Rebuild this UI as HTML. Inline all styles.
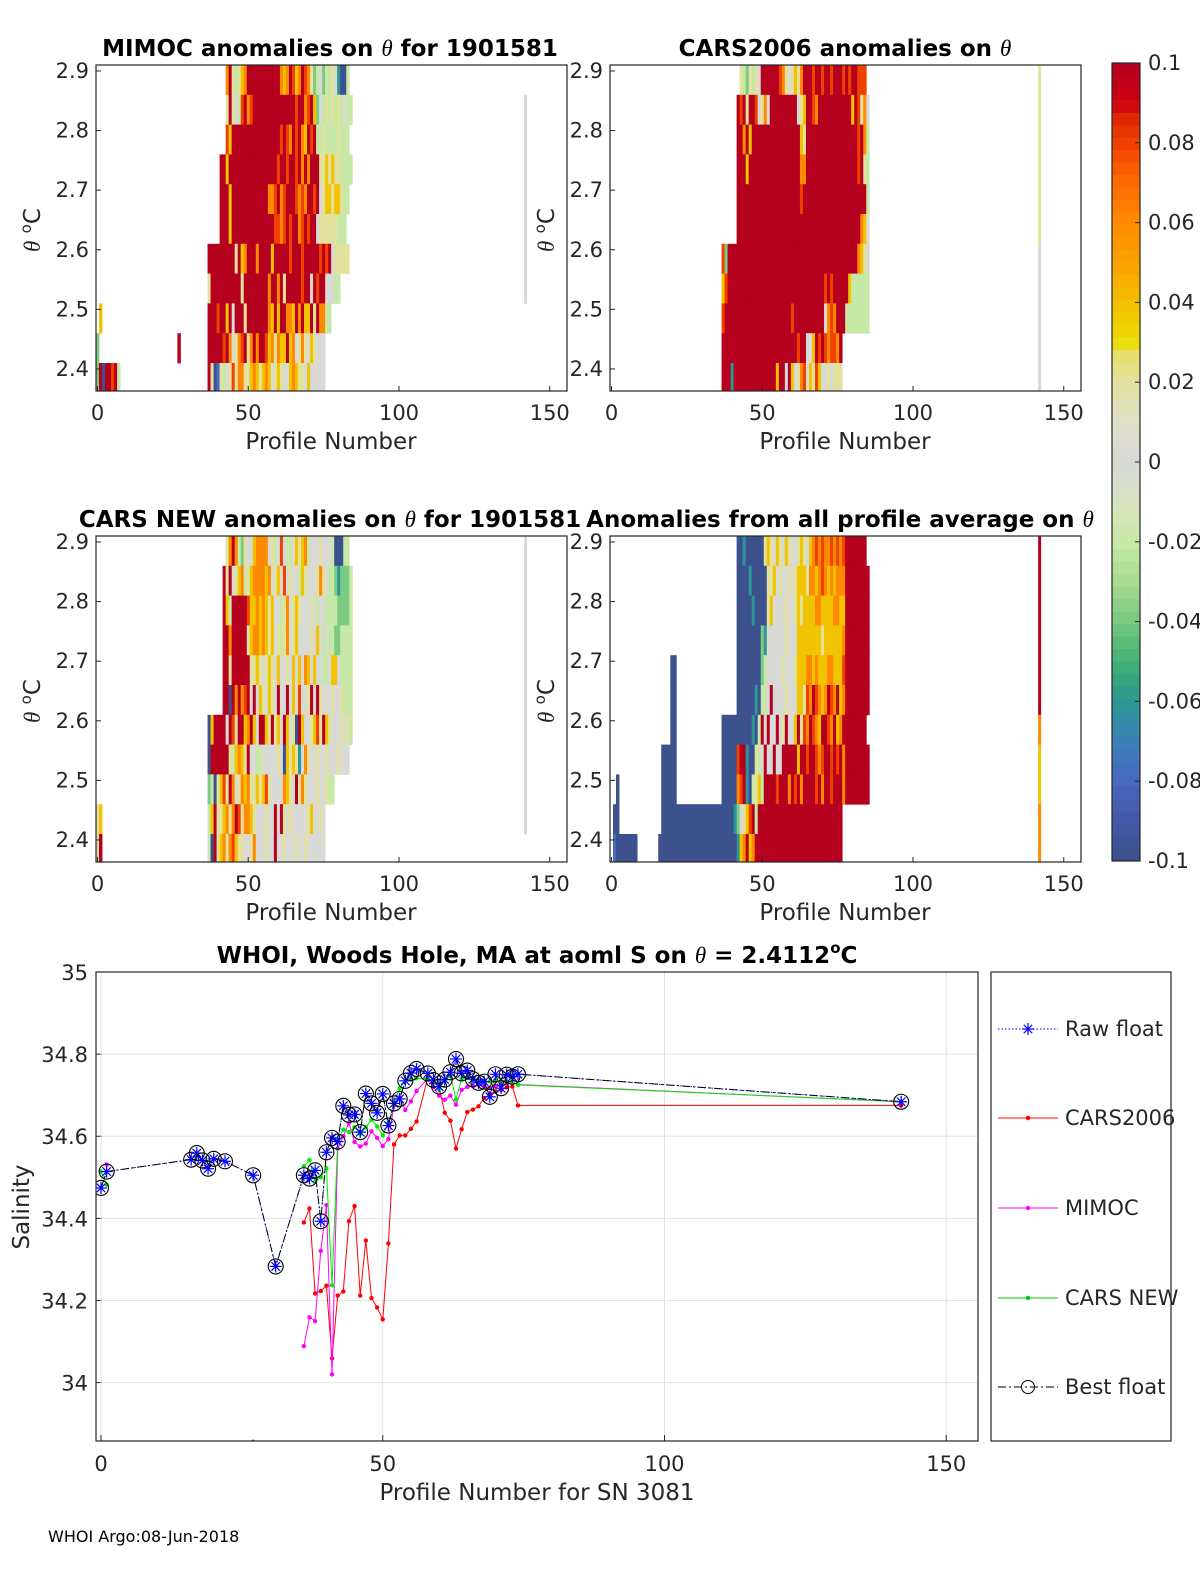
<!DOCTYPE html>
<html><head><meta charset="utf-8"><title>Argo anomalies</title>
<style>
html,body{margin:0;padding:0;background:#fff;}
svg{display:block;font-family:"DejaVu Sans","Liberation Sans",sans-serif;}
.tt{font-weight:bold;font-size:23px;fill:#000;}
.tk{font-size:21px;fill:#262626;}
.lb{font-size:23px;fill:#262626;}
</style></head>
<body>
<svg id="fig" width="1200" height="1575" viewBox="0 0 1200 1575" xmlns="http://www.w3.org/2000/svg">
<defs>
<clipPath id="cb"><rect x="96" y="972" width="882" height="469"/></clipPath>
</defs>
</svg>
<script>
// ---------- heatmap data (codes A..K => -0.1 .. 0.1 step 0.02) ----------
const thetaRows = [2.885,2.835,2.785,2.735,2.685,2.635,2.585,2.535,2.485,2.435,2.385];
const xTicksHeat = [0,50,100,150];
const yTicksHeat = [2.4,2.5,2.6,2.7,2.8,2.9];
const p1Rows = [
 [[43,"IKGEGHIKKKKKKKKKKKIHIKJHIKJIGDEFDEEGFCAAE"]],
 [[43,"GKGFEJKIJKKKKKKKKKKKKKKJKKIJKHDFEGEGEGEFEE"]],
 [[43,"JHKKKKKKKKKKKKKKKKJKJIKJKIHKJKEEGEEEEGEEE"]],
 [[41,"KKHKKKKKKKKKKKKKKKKJKKJKKJKIKIKKKGGHGHGGEEEE"]],
 [[41,"KKKHKKKKKKKKKKKKIIJKIJKKKJIJIKKJKFGHHGHHGEE"]],
 [[41,"KKKHKKKKKKKKKKKKKKJJIJKJKKIJKJKKFGGGGGGEEE"]],
 [[37,"KKKKKKKKKGKHIKKKIKKKKHKKKKKJKKKJKKKKKJKJKFGGGGG"]],
 [[37,"GKKKKKKKKKKGKKKKKKKKIKKIKGKKKKKJKKFKJKKFFFEE"]],
 [[1,"H"],[37,"KKKJKKHKFKKKGKKKKKKKIHKHKKIIHKIKHHKGKIIEE"]],
 [[0,"D"],[27,"K"],[37,"KKKKKJKIFGIJKGIKIKKJHIGIHHKHIFGIGFHGFFF"]],
 [[0,"DKAKKJKE"],[37,"KGABGEFGJGIIGGHIHGHIHFGHGFFHIHGGFHFFFFF"]]
];
const p1Col142 = ".FFFFFFF...";
const p2Rows = [
 [[43,"GEDGEGFKKKKKKJIGFGHGIKKKJKKJKKJKKKJKJKKJJJ"]],
 [[42,"KJKGKKJFGIFKKKKKKKKKFGHKKJIKKKKKKKKKKKHKJGIF"]],
 [[42,"KKIKHKKKKKKKKKKKKKKKKHGKKKKKKKKKKKKKKKKKJKIE"]],
 [[42,"KKKHKKKKKKKKKKKKKKKKKIIKKKKKKKKKKKKKKKKKJKGE"]],
 [[42,"KKKKKKKKKKKKKKKKKKKKKJKKKKKKKKKKKKKKKKKKKKKE"]],
 [[42,"KKKKKKKKKKKKKKKKKKKKKKKKKKKKKKKKKKKKKKKKKIHF"]],
 [[37,"JDKKKKKKKKKKKKKKKKKKKKKKKKKKKKKKKKKKKKKKKKKKKIHGF"]],
 [[37,"HJKKKKKKKKKKKKKKKKKKKKKKKKKKKKKKKKJKJKKKKKHEEEEEE"]],
 [[37,"JKKKKKKKKKKKKKKKKKKKKKKJKKKKKKKKKKFIJIKKKEEEEEEEE"]],
 [[37,"KKKKKKKKKKKKKKKKKKKKKKKKKJKKFFHKJKJIJJIK"]],
 [[37,"KKKCKKKKKKKKKKKKKKHKKFKHFGIJFHGJHFFGFGGG"]]
];
const p2Col142 = "GGGGGGFFFFF";
const p3Rows = [
 [[43,"GIKIEDGFFHIIIIFGEFJFEEFHGHIEFFFGFFFEAAAEE"]],
 [[42,"KGKFGHIEGHIIIIHIFGHFJFGFFEHGFFFGIGFEEDCDDDE"]],
 [[42,"KHEKKKKKJHHIHIHGHFFEGIFGHGFFFGFEFFEEEEDDDDE"]],
 [[42,"KKIKKKKKGHIIHIHGHFGEGIFGHFFFFGFHFEFEEDDEEEE"]],
 [[42,"KKGKKKKKKGGHGFGHGFHFFGFHFHFIHFHFFEEFHHFEEEE"]],
 [[42,"KKAKIKIJKFKFHGFHGFKFFKFHFJFFGKFKGFFFGFFGEEE"]],
 [[37,"AHKKKKFKJGKKHIKHFKKHGKGHFKHFGAKHFFGHJGKHGFFFGFGE"]],
 [[37,"AKKKKKKGEHIHGKFFEEFFFFFGFAHGHGCFIGFFGFFGFFFGFFF"]],
 [[37,"DEAGHJGKIFGIHIGGHGHJGFFFFIHGFKGIGFFFGFFGEE"]],
 [[0,"GH"],[37,"EHKGGHIGIKJGIIHGFFFGFFKFKGFGFFFFFGHFFGF"]],
 [[0,"GK"],[37,"EAKGHIGIJHGGFFGIFFFGFFKFFGFFFGFFGFFFFFF"]]
];
const p3Col142 = "FFFFFFFFFF.";
const p4Rows = [
 [[42,"AACAAAAAAGHGFHGFHGFFGHGFHIJIJIIJIJIJKKKKKKK"]],
 [[42,"AAAACAAAAAGGHFGFFGFGHHHGIIHIJIHIHIIIKKKKKKKK"]],
 [[42,"AAAAACAAAAGHFFFFGFFGHGHHHHIIHHHHIIHHKKKKKKKK"]],
 [[42,"AAAAAAAADCFFFFFFGFFFHHHHHHHHGHHHHHHIKKKKKKKK"]],
 [[20,"AA"],[42,"AAAAAAAADEFFFFFGFFFGHHHIIHIHHHIIHHHJKKKKKKKK"]],
 [[20,"AA"],[42,"AAAAAACAEEFKFFFFGFFFHHGJIKJIHIKJIKHIKKKKKKKK"]],
 [[20,"AA"],[37,"AAAAAAAAAACAEKFKFFKFGKFFHKGJIKJIHKKJIKHIKKKKKKKK"]],
 [[17,"AAAAA"],[37,"AAAAAJKKCAAGEFKFFKFFKKKKKHKKJKKJIJKKJKJKIKKKKKKKK"]],
 [[2,"A"],[17,"AAAAA"],[37,"AAAAAIJKCAEGHEKKKKJKKKIKJKIKKKKJKIKKJKKKIKKKKKKKK"]],
 [[1,"AA"],[17,"AAAAAAAAAAAAAAAAAAAAAAAACDFGHJKEKKKKKKKKKKKKKKKKKKKKKKKKKKKK"]],
 [[1,"BAAAAAAA"],[16,"AAAAAAAAAAAAAAAAAAAAAAAAAACHIKHIKKKKKKKKKKKKKKKKKKKKKKKKKKKKK"]]
];
const p4Col142 = "KKKKKKIHHII";
const cbarTicks = [0.1,0.08,0.06,0.04,0.02,0,-0.02,-0.04,-0.06,-0.08,-0.1];

// ---------- salinity chart data (null = gap) ----------
const bestX = [0,1,16,17,18,19,20,22,27,31,36,37,38,39,40,41,42,43,44,45,46,47,48,49,50,51,52,53,54,55,56,58,59,60,61,62,63,64,65,66,67,68,69,70,71,72,73,74,142];
const bestS = [34.474,34.514,34.543,34.559,34.541,34.521,34.545,34.539,34.505,34.283,34.505,34.497,34.517,34.393,34.561,34.596,34.587,34.674,34.652,34.653,34.610,34.704,34.680,34.657,34.703,34.626,34.680,34.691,34.735,34.754,34.764,34.753,34.737,34.721,34.738,34.756,34.788,34.753,34.760,34.739,34.730,34.733,34.696,34.751,34.717,34.750,34.745,34.751,34.684];
const carsX = [36,37,38,39,40,41,42,43,44,45,46,47,48,49,50,51,52,53,54,55,56,58,59,60,61,62,63,64,65,66,67,68,69,70,71,72,73,74,142];
const carsS = [34.390,34.424,34.217,34.223,34.236,34.059,34.212,34.222,34.393,34.430,34.212,34.346,34.206,34.183,34.154,34.339,34.580,34.602,34.602,34.618,34.636,34.743,34.731,34.721,34.657,34.638,34.570,34.617,34.659,34.665,34.673,34.693,34.702,34.709,34.713,34.719,34.721,34.675,34.675];
const mimocX = [1,null,27,null,36,37,38,39,40,41,42,43,44,45,46,47,48,49,50,51,52,53,54,55,56,58,59,60,61,62,63,64,65,66,67,68,69,70,71,72,73,74,142];
const mimocS = [34.531,null,33.856,null,34.089,34.159,34.150,34.321,34.432,34.020,34.570,34.600,34.632,34.586,34.575,34.582,34.612,34.596,34.576,34.593,34.675,34.695,34.664,34.685,34.710,34.741,34.720,34.699,34.689,34.699,34.677,34.713,34.720,34.722,34.725,34.722,34.718,34.722,34.725,34.728,34.730,34.726,34.684];
const newX = [0,1,null,36,37,38,39,40,41,42,43,44,45,46,47,48,49,50,51,52,53,54,55,56,58,59,60,61,62,63,64,65,66,67,68,69,70,71,72,73,74,142];
const newS = [34.514,34.482,null,34.527,34.542,34.489,34.500,34.522,34.237,34.590,34.616,34.610,34.622,34.606,34.622,34.640,34.624,34.602,34.634,34.679,34.717,34.735,34.738,34.741,34.740,34.735,34.715,34.735,34.748,34.690,34.740,34.742,34.738,34.736,34.735,34.733,34.735,34.734,34.733,34.732,34.725,34.684];
const salXTicks = [0,50,100,150];
const salYTicks = [34,34.2,34.4,34.6,34.8,35];
const legendLabels = ["Raw float","CARS2006","MIMOC","CARS NEW","Best float"];

// ---------- helpers ----------
const NS="http://www.w3.org/2000/svg";
const svg=document.getElementById('fig');
function mk(tag,attrs,parent){const e=document.createElementNS(NS,tag);for(const k in attrs)e.setAttribute(k,attrs[k]);(parent||svg).appendChild(e);return e;}
const stops=[[-0.1,[58,80,136]],[-0.09,[68,88,168]],[-0.08,[72,104,192]],[-0.07,[58,128,184]],[-0.06,[42,152,144]],[-0.05,[64,176,112]],[-0.04,[120,200,128]],[-0.03,[168,220,144]],[-0.02,[200,232,168]],[-0.01,[216,228,192]],[0,[216,216,216]],[0.01,[224,224,200]],[0.02,[226,226,160]],[0.028,[232,224,96]],[0.03,[236,220,0]],[0.04,[242,192,0]],[0.05,[251,160,0]],[0.06,[255,140,0]],[0.07,[255,106,0]],[0.08,[240,64,0]],[0.085,[224,48,0]],[0.09,[208,0,16]],[0.1,[176,0,32]]];
function cmap(v){
  v=Math.max(-0.1,Math.min(0.1,v));
  const q=Math.min(63,Math.floor((v+0.1)/0.2*64)); v=-0.1+(q+0.5)*0.2/64;
  for(let i=0;i<stops.length-1;i++){const a=stops[i],b=stops[i+1];if(v>=a[0]&&v<=b[0]){const t=(v-a[0])/(b[0]-a[0]);const c=a[1].map((x,j)=>Math.round(x+(b[1][j]-x)*t));return `rgb(${c[0]},${c[1]},${c[2]})`;}}
  return 'rgb(176,0,32)';
}
function codeVal(ch){return -0.1+(ch.charCodeAt(0)-65)*0.02;}
function txt(s,attrs,parent){const e=mk('text',attrs,parent);e.textContent=s;return e;}

// ---------- heatmap panels ----------
function panel(name,left,top,rows,col142,title,titleX){
  const g=mk('g',{});
  
  
  const W=471,H=326,x0=left+1.5,kx=3.015,ky=596;
  const X=p=>x0+p*kx, Y=th=>top+(2.91-th)*ky;
  const cid='c'+name; const cp=mk('clipPath',{id:cid},svg.querySelector('defs')); mk('rect',{x:left,y:top,width:W,height:H},cp);
  const cells=mk('g',{'clip-path':`url(#${cid})`},g);
  rows.forEach((segs,i)=>{
    const th=thetaRows[i];
    segs.forEach(([st,codes])=>{
      for(let j=0;j<codes.length;j++){
        const ch=codes[j]; if(ch==='.')continue;
        const p=st+j;
        const r=mk('rect',{x:X(p-0.5),y:Y(th+0.025),width:kx+0.4,height:ky*0.05+0.4,fill:cmap(codeVal(ch))},cells);
        
        
      }
    });
    const c=col142[i];
    if(c!=='.'){
      const r=mk('rect',{x:X(142)-1.5,y:Y(th+0.025),width:3,height:ky*0.05+0.4,fill:cmap(codeVal(c))},cells);
      
      
    }
  });
  mk('rect',{x:left,y:top,width:W,height:H,fill:'none',stroke:'#262626','stroke-width':1.2},g);
  yTicksHeat.forEach(t=>{const y=Y(t);mk('line',{x1:left,x2:left+5,y1:y,y2:y,stroke:'#262626'},g);
    const e=txt(t.toFixed(1),{x:left-7,y:y+7,'text-anchor':'end',class:'tk'},g);
    });
  xTicksHeat.forEach(t=>{const x=X(t);mk('line',{x1:x,x2:x,y1:top+H,y2:top+H-5,stroke:'#262626'},g);
    const e=txt(String(t),{x:x,y:top+H+29,'text-anchor':'middle',class:'tk'},g);
    });
  const xl=txt('Profile Number',{x:left+235,y:top+H+58,'text-anchor':'middle',class:'lb'},g);
  
  const yl=mk('text',{transform:`translate(${left-56},${top+165}) rotate(-90)`,'text-anchor':'middle',class:'lb'},g);
  
  yl.innerHTML='<tspan font-family="Liberation Serif,serif" font-style="italic">θ</tspan> <tspan font-size="15" dy="-9">o</tspan><tspan dy="9">C</tspan>';
  const tl=mk('text',{x:titleX,y:top-9,'text-anchor':'middle',class:'tt'},g);
  
  tl.innerHTML=title;
}
const TH='<tspan font-family="Liberation Serif,serif" font-style="italic" font-weight="normal">θ</tspan>';
panel('mimoc-panel',96,65,p1Rows,p1Col142,'MIMOC anomalies on '+TH+'  for 1901581',330);
panel('cars2006-panel',610,65,p2Rows,p2Col142,'CARS2006 anomalies on '+TH,845);
panel('carsnew-panel',96,536,p3Rows,p3Col142,'CARS NEW anomalies on '+TH+' for 1901581',330);
panel('average-panel',610,536,p4Rows,p4Col142,'Anomalies from all profile average on '+TH,840);

// ---------- colorbar ----------
(function(){
  const g=mk('g',{});
  
  
  const top=63,bot=861,h=(bot-top)/64;
  for(let i=0;i<64;i++){const v=0.1-(i+0.5)*0.2/64;mk('rect',{x:1112,y:top+i*h,width:28,height:h+0.5,fill:cmap(v)},g);}
  mk('rect',{x:1112,y:top,width:28,height:bot-top,fill:'none',stroke:'#262626','stroke-width':1.2},g);
  cbarTicks.forEach(t=>{const y=top+(0.1-t)/0.2*(bot-top);
    mk('line',{x1:1135,x2:1140,y1:y,y2:y,stroke:'#262626'},g);
    const e=txt(String(t),{x:1148,y:y+7,class:'tk'},g);
    });
})();

// ---------- salinity chart ----------
(function(){
  const L=96,T=972,R=978,B=1441;
  const X=p=>101+p*5.635, Y=s=>T+(35-s)*410.6;
  const g=mk('g',{});
  
  
  salYTicks.forEach(t=>{const y=Y(t);mk('line',{x1:L,x2:R,y1:y,y2:y,stroke:'#e3e3e3'},g);
    mk('line',{x1:L,x2:L+6,y1:y,y2:y,stroke:'#262626'},g);
    const e=txt(String(t),{x:88,y:y+8,'text-anchor':'end',class:'tk','font-size':'22'},g);
    });
  salXTicks.forEach(t=>{const x=X(t);mk('line',{x1:x,x2:x,y1:T,y2:B,stroke:'#e3e3e3'},g);
    mk('line',{x1:x,x2:x,y1:B,y2:B-6,stroke:'#262626'},g);
    const e=txt(String(t),{x:x,y:1471,'text-anchor':'middle',class:'tk','font-size':'22'},g);
    });
  const pl=mk('g',{'clip-path':'url(#cb)'},g);
  function series(xs,ys,color,name,dash,dot){
    let seg=[];const segs=[];
    xs.forEach((x,i)=>{if(x===null||ys[i]===null){if(seg.length)segs.push(seg);seg=[];}else seg.push(X(x).toFixed(1)+','+Y(ys[i]).toFixed(1));});
    if(seg.length)segs.push(seg);
    segs.forEach(s=>{if(s.length<2)return;
      const ln=mk('polyline',{points:s.join(' '),fill:'none',stroke:color,'stroke-width':1,'stroke-dasharray':dash||'none'},pl);
      
      });
    if(dot) xs.forEach((x,i)=>{if(x===null||ys[i]===null)return;const c=mk('circle',{cx:X(x),cy:Y(ys[i]),r:2.2,fill:color},pl);
      
      });
  }
  series(carsX,carsS,'#ff0000','cars2006','',true);
  series(mimocX,mimocS,'#ff00ff','mimoc','',true);
  series(newX,newS,'#00ee00','cars-new','',true);
  series(bestX,bestS,'#0000ff','raw-float','1.5 2',false);
  series(bestX,bestS,'#000000','best-float','8 3 2 3',false);
  function marker(cx,cy,par){
    mk('circle',{cx:cx,cy:cy,r:7.5,fill:'none',stroke:'#000','stroke-width':1.1},par);
    for(let a=0;a<4;a++){const an=a*Math.PI/4,dx=6*Math.cos(an),dy=6*Math.sin(an);
      mk('line',{x1:cx-dx,y1:cy-dy,x2:cx+dx,y2:cy+dy,stroke:'#0000ff','stroke-width':1.2},par);}
  }
  bestX.forEach((x,i)=>{const m=mk('g',{},pl);
    
    
    marker(X(x),Y(bestS[i]),m);});
  mk('rect',{x:L,y:T,width:R-L,height:B-T,fill:'none',stroke:'#262626','stroke-width':1.2},g);
  const tl=mk('text',{x:537,y:963,'text-anchor':'middle',class:'tt'},g);
  
  tl.innerHTML='WHOI, Woods Hole, MA at aoml S on '+TH+' = 2.4112<tspan font-size="15" dy="-10">o</tspan><tspan dy="10">C</tspan>';
  const xl=txt('Profile Number for SN 3081',{x:537,y:1500,'text-anchor':'middle',class:'lb'},g);
  
  const yl=txt('Salinity',{transform:'translate(29,1207) rotate(-90)','text-anchor':'middle',class:'lb'},g);
  
  // legend
  const lg=mk('g',{},g);
  
  
  mk('rect',{x:991,y:972,width:180,height:469,fill:'#fff',stroke:'#262626','stroke-width':1.2},lg);
  const ys=[1029,1118,1208,1298,1387];
  const cols=['#0000ff','#ff0000','#ff00ff','#00cc00','#000'];
  legendLabels.forEach((lab,i)=>{
    const e=mk('g',{},lg);
    
    
    const y=ys[i];
    mk('line',{x1:998,x2:1058,y1:y,y2:y,stroke:cols[i],'stroke-dasharray':i===0?'1.5 2':(i===4?'8 3 2 3':'none')},e);
    if(i===0){for(let a=0;a<4;a++){const an=a*Math.PI/4;mk('line',{x1:1028-6*Math.cos(an),y1:y-6*Math.sin(an),x2:1028+6*Math.cos(an),y2:y+6*Math.sin(an),stroke:'#0000ff','stroke-width':1.2},e);}}
    else if(i===4){mk('circle',{cx:1028,cy:y,r:6.5,fill:'none',stroke:'#000'},e);}
    else mk('circle',{cx:1028,cy:y,r:2.2,fill:cols[i]},e);
    txt(lab,{x:1065,y:y+7,class:'tk','font-size':'19'},e);
  });
})();
const ft=txt('WHOI Argo:08-Jun-2018',{x:48,y:1542,'font-size':'16',fill:'#000'});


</script>
</body></html>
